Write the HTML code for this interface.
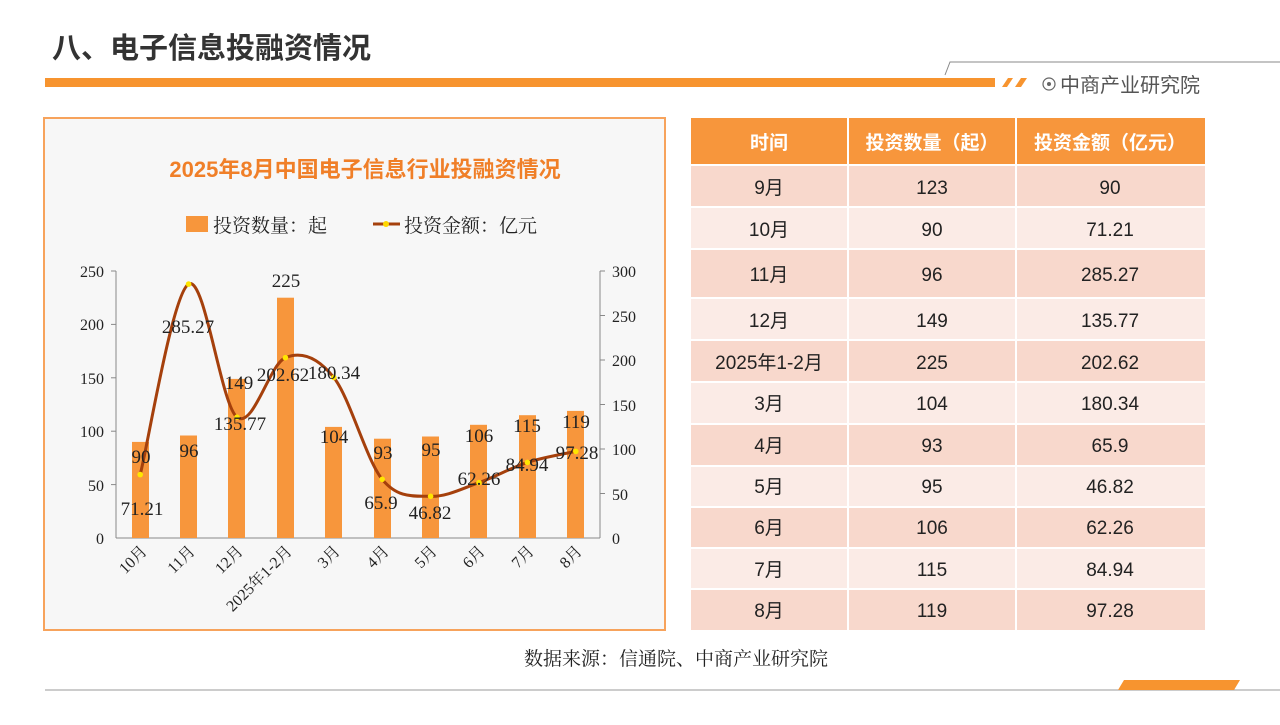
<!DOCTYPE html>
<html><head><meta charset="utf-8"><style>
body{margin:0;width:1280px;height:720px;background:#fff;overflow:hidden;font-family:"Liberation Sans","Noto Sans CJK SC",sans-serif}
</style></head><body>
<svg width="1280" height="720" xmlns="http://www.w3.org/2000/svg" font-family="'Liberation Sans','Noto Sans CJK SC',sans-serif">
<text x="52" y="58" font-size="29" font-weight="bold" fill="#333">八、电子信息投融资情况</text>
<rect x="45" y="78" width="950" height="9" fill="#f7942f"/>
<polygon points="1002,87 1008,78 1013,78 1007,87" fill="#f7942f"/>
<polygon points="1015,87 1021,78 1027,78 1021,87" fill="#f7942f"/>
<polyline points="945,75 950,62 1280,62" fill="none" stroke="#888" stroke-width="1"/>
<circle cx="1049" cy="84" r="6" fill="none" stroke="#666" stroke-width="1.2"/><circle cx="1049" cy="84" r="2" fill="#666"/>
<text x="1060" y="92" font-size="20" fill="#555">中商产业研究院</text>
<line x1="45" y1="690" x2="1280" y2="690" stroke="#999" stroke-width="1"/>
<polygon points="1118,690 1124,680 1240,680 1234,690" fill="#f7942f"/>
<rect x="44" y="118" width="621" height="512" fill="#f7f7f7" stroke="#f7a35c" stroke-width="2"/>
<text x="365" y="177" font-size="22" font-weight="bold" fill="#f07f28" text-anchor="middle">2025年8月中国电子信息行业投融资情况</text>
<rect x="186" y="216" width="22" height="16" fill="#f7963c"/>
<text x="213" y="232" font-size="19" fill="#222" font-family="'Liberation Serif','Noto Serif CJK SC',serif">投资数量：起</text>
<line x1="373" y1="224" x2="400" y2="224" stroke="#a5400c" stroke-width="3"/><circle cx="386" cy="224" r="3" fill="#ffd700"/>
<text x="404" y="232" font-size="19" fill="#222" font-family="'Liberation Serif','Noto Serif CJK SC',serif">投资金额：亿元</text>
<g stroke="#888" stroke-width="1" fill="none">
<line x1="116" y1="271" x2="116" y2="538"/><line x1="600" y1="271" x2="600" y2="538"/><line x1="116" y1="538" x2="600" y2="538"/>
<line x1="111" y1="271" x2="116" y2="271"/><line x1="111" y1="324.4" x2="116" y2="324.4"/><line x1="111" y1="377.8" x2="116" y2="377.8"/><line x1="111" y1="431.2" x2="116" y2="431.2"/><line x1="111" y1="484.6" x2="116" y2="484.6"/>
<line x1="600" y1="271" x2="605" y2="271"/><line x1="600" y1="315.5" x2="605" y2="315.5"/><line x1="600" y1="360" x2="605" y2="360"/><line x1="600" y1="404.5" x2="605" y2="404.5"/><line x1="600" y1="449" x2="605" y2="449"/><line x1="600" y1="493.5" x2="605" y2="493.5"/>
</g>
<g font-size="16" fill="#222" font-family="'Liberation Serif',serif" text-anchor="end">
<text x="104" y="277">250</text><text x="104" y="330">200</text><text x="104" y="384">150</text><text x="104" y="437">100</text><text x="104" y="491">50</text><text x="104" y="544">0</text>
</g>
<g font-size="16" fill="#222" font-family="'Liberation Serif',serif">
<text x="612" y="277">300</text><text x="612" y="322">250</text><text x="612" y="366">200</text><text x="612" y="411">150</text><text x="612" y="455">100</text><text x="612" y="500">50</text><text x="612" y="544">0</text>
</g>
<g fill="#f7963c">
<rect x="132" y="441.9" width="17" height="96.1"/><rect x="180" y="435.5" width="17" height="102.5"/><rect x="228" y="378.9" width="17" height="159.1"/><rect x="277" y="297.7" width="17" height="240.3"/><rect x="325" y="426.9" width="17" height="111.1"/><rect x="374" y="438.7" width="17" height="99.3"/><rect x="422" y="436.5" width="17" height="101.5"/><rect x="470" y="424.8" width="17" height="113.2"/><rect x="519" y="415.2" width="17" height="122.8"/><rect x="567" y="410.9" width="17" height="127.1"/>
</g>
<path d="M140.2,474.6 C148.3,442.8 172.5,293.7 188.6,284.1 C204.7,274.5 220.9,404.9 237,417.2 C253.1,429.5 269.3,364.3 285.4,357.7 C301.5,351.1 317.7,357.2 333.8,377.5 C349.9,397.8 366.1,459.5 382.2,479.3 C398.3,499.1 414.5,495.75 430.6,496.3 C446.7,496.85 462.9,488.25 479,482.6 C495.1,476.95 511.3,467.6 527.4,462.4 C543.5,457.2 567.7,453.2 575.8,451.4" fill="none" stroke="#a5400c" stroke-width="3"/>
<g fill="#ffe600">
<circle cx="140.2" cy="474.6" r="2.8"/><circle cx="188.6" cy="284.1" r="2.8"/><circle cx="237" cy="417.2" r="2.8"/><circle cx="285.4" cy="357.7" r="2.8"/><circle cx="333.8" cy="377.5" r="2.8"/><circle cx="382.2" cy="479.3" r="2.8"/><circle cx="430.6" cy="496.3" r="2.8"/><circle cx="479" cy="482.6" r="2.8"/><circle cx="527.4" cy="462.4" r="2.8"/><circle cx="575.8" cy="451.4" r="2.8"/>
</g>
<g font-size="19" fill="#222" font-family="'Liberation Serif',serif" text-anchor="middle">
<text x="141" y="463">90</text><text x="189" y="457">96</text><text x="239" y="389">149</text><text x="286" y="287">225</text><text x="334" y="443">104</text><text x="383" y="459">93</text><text x="431" y="456">95</text><text x="479" y="442">106</text><text x="527" y="432">115</text><text x="576" y="428">119</text>
<text x="142" y="515">71.21</text><text x="188" y="333">285.27</text><text x="240" y="430">135.77</text><text x="283" y="381">202.62</text><text x="334" y="379">180.34</text><text x="381" y="509">65.9</text><text x="430" y="519">46.82</text><text x="479" y="485">62.26</text><text x="527" y="471">84.94</text><text x="577" y="459">97.28</text>
</g>
<g font-size="16" fill="#222" font-family="'Liberation Serif','Noto Serif CJK SC',serif" text-anchor="end">
<text transform="translate(148,552) rotate(-45)">10月</text><text transform="translate(196,552) rotate(-45)">11月</text><text transform="translate(244,552) rotate(-45)">12月</text><text transform="translate(293,552) rotate(-45)">2025年1-2月</text><text transform="translate(341,552) rotate(-45)">3月</text><text transform="translate(390,552) rotate(-45)">4月</text><text transform="translate(438,552) rotate(-45)">5月</text><text transform="translate(486,552) rotate(-45)">6月</text><text transform="translate(535,552) rotate(-45)">7月</text><text transform="translate(583,552) rotate(-45)">8月</text>
</g>
<rect x="691" y="118" width="514" height="47" fill="#f7963c"/>
<g font-size="19" fill="#fff" text-anchor="middle" font-weight="bold">
<text x="769" y="149">时间</text><text x="932" y="149">投资数量（起）</text><text x="1110" y="149">投资金额（亿元）</text>
</g>
<g>
<rect x="691" y="165" width="514" height="42" fill="#f8d8cc"/>
<rect x="691" y="207" width="514" height="42" fill="#fbebe6"/>
<rect x="691" y="249" width="514" height="49" fill="#f8d8cc"/>
<rect x="691" y="298" width="514" height="42" fill="#fbebe6"/>
<rect x="691" y="340" width="514" height="42" fill="#f8d8cc"/>
<rect x="691" y="382" width="514" height="42" fill="#fbebe6"/>
<rect x="691" y="424" width="514" height="42" fill="#f8d8cc"/>
<rect x="691" y="466" width="514" height="41" fill="#fbebe6"/>
<rect x="691" y="507" width="514" height="41" fill="#f8d8cc"/>
<rect x="691" y="548" width="514" height="41" fill="#fbebe6"/>
<rect x="691" y="589" width="514" height="41" fill="#f8d8cc"/>
</g>
<g stroke="#fff" stroke-width="2">
<line x1="691" y1="165" x2="1205" y2="165"/><line x1="691" y1="207" x2="1205" y2="207"/><line x1="691" y1="249" x2="1205" y2="249"/><line x1="691" y1="298" x2="1205" y2="298"/><line x1="691" y1="340" x2="1205" y2="340"/><line x1="691" y1="382" x2="1205" y2="382"/><line x1="691" y1="424" x2="1205" y2="424"/><line x1="691" y1="466" x2="1205" y2="466"/><line x1="691" y1="507" x2="1205" y2="507"/><line x1="691" y1="548" x2="1205" y2="548"/><line x1="691" y1="589" x2="1205" y2="589"/>
<line x1="848" y1="118" x2="848" y2="630"/><line x1="1016" y1="118" x2="1016" y2="630"/>
</g>
<g font-size="19" fill="#222" text-anchor="middle">
<text x="769" y="194">9月</text><text x="932" y="194">123</text><text x="1110" y="194">90</text>
<text x="769" y="236">10月</text><text x="932" y="236">90</text><text x="1110" y="236">71.21</text>
<text x="769" y="281">11月</text><text x="932" y="281">96</text><text x="1110" y="281">285.27</text>
<text x="769" y="327">12月</text><text x="932" y="327">149</text><text x="1110" y="327">135.77</text>
<text x="769" y="369">2025年1-2月</text><text x="932" y="369">225</text><text x="1110" y="369">202.62</text>
<text x="769" y="410">3月</text><text x="932" y="410">104</text><text x="1110" y="410">180.34</text>
<text x="769" y="452">4月</text><text x="932" y="452">93</text><text x="1110" y="452">65.9</text>
<text x="769" y="493">5月</text><text x="932" y="493">95</text><text x="1110" y="493">46.82</text>
<text x="769" y="534">6月</text><text x="932" y="534">106</text><text x="1110" y="534">62.26</text>
<text x="769" y="576">7月</text><text x="932" y="576">115</text><text x="1110" y="576">84.94</text>
<text x="769" y="617">8月</text><text x="932" y="617">119</text><text x="1110" y="617">97.28</text>
</g>
<text x="676" y="665" font-size="19" fill="#222" text-anchor="middle" font-family="'Liberation Serif','Noto Serif CJK SC',serif">数据来源：信通院、中商产业研究院</text>
</svg>
</body></html>
